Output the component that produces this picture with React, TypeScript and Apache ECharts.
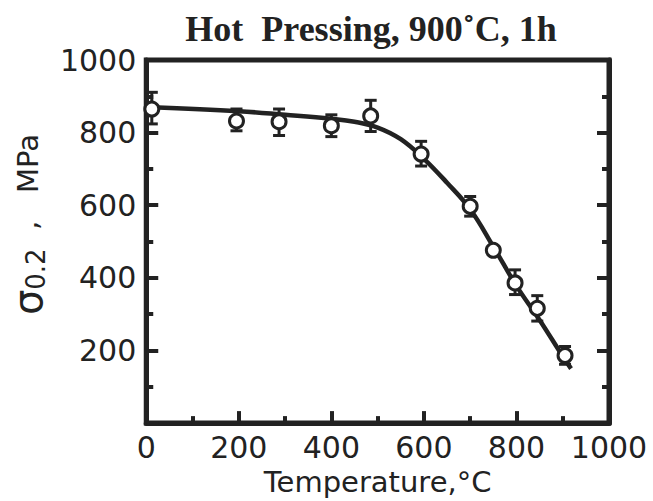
import React, { useEffect, useRef } from "react";
import * as echarts from "echarts";

const temps = [12, 195, 287, 400, 485, 594, 700, 750, 797, 845, 905];
const sigma = [865, 832, 830, 819, 846, 741, 597, 476, 386, 316, 186];
const errLow = [824, 805, 792, 789, 803, 708, 570, 466, 354, 281, 162];
const errHigh = [911, 865, 865, 849, 889, 776, 624, 486, 422, 351, 211];

const fitT = [12, 200, 300, 400, 450, 500, 550, 600, 650, 700, 750, 800, 850, 900, 918];
const fitS = [870, 859, 849, 838, 830, 814, 782, 728, 662, 589, 486, 378, 284, 184, 150];

const xTicks = [0, 200, 400, 600, 800, 1000];
const yTicks = [200, 400, 600, 800, 1000];

const TITLE = "Hot  Pressing, 900˚C, 1h";
const X_NAME = "Temperature,°C";

export default function App() {
  const ref = useRef<HTMLDivElement>(null);
  useEffect(() => {
    if (!ref.current) return;
    const chart = echarts.init(ref.current, undefined, { renderer: "svg" });
    const ink = "#222";
    const labelFont = "DejaVu Sans";
    chart.setOption({
      animation: false,
      backgroundColor: "#fff",
      title: {
        text: TITLE,
        left: 366,
        top: 6,
        textAlign: "center",
        textStyle: {
          fontFamily: "Liberation Serif",
          fontWeight: "bold",
          fontSize: 36,
          color: ink,
        },
      },
      grid: {
        left: 131,
        right: 44,
        top: 60,
        bottom: 71,
        show: true,
        borderColor: ink,
        borderWidth: 5,
        backgroundColor: "transparent",
      },
      xAxis: [
        {
          type: "value",
          min: 0,
          max: 1000,
          interval: 200,
          name: X_NAME,
          nameLocation: "middle",
          nameGap: 42,
          nameTextStyle: { fontFamily: labelFont, fontSize: 29, color: ink },
          axisLine: { show: true, lineStyle: { color: ink, width: 5 } },
          axisTick: { show: true, inside: true, length: 12, lineStyle: { color: ink, width: 4 } },
          minorTick: { show: true, splitNumber: 2, length: 7, lineStyle: { color: ink, width: 4 } },
          splitLine: { show: false },
          axisLabel: {
            fontFamily: labelFont,
            fontSize: 30,
            color: ink,
            margin: 9,
            formatter: (v: number) => (xTicks.includes(v) ? String(v) : ""),
          },
        },
      ],
      yAxis: [
        {
          type: "value",
          min: 0,
          max: 1000,
          interval: 200,
          name: "{s|σ}{sub|0.2}{n|  ,   MPa}",
          nameLocation: "middle",
          nameGap: 88,
          nameRotate: 90,
          nameTextStyle: {
            color: ink,
            padding: [0, 0, 0, 34],
            rich: {
              s: { fontFamily: "DejaVu Sans", fontSize: 40, color: ink },
              sub: { fontFamily: labelFont, fontSize: 26, color: ink, verticalAlign: "bottom", padding: [16, 0, 0, 0] },
              n: { fontFamily: labelFont, fontSize: 29, color: ink },
            },
          },
          axisLine: { show: true, lineStyle: { color: ink, width: 5 } },
          axisTick: { show: true, inside: true, length: 12, lineStyle: { color: ink, width: 4 } },
          minorTick: { show: true, splitNumber: 2, length: 7, lineStyle: { color: ink, width: 4 } },
          splitLine: { show: false },
          axisLabel: {
            fontFamily: labelFont,
            fontSize: 30,
            color: ink,
            margin: 10,
            formatter: (v: number) => (yTicks.includes(v) ? String(v) : ""),
          },
        },
        {
          type: "value",
          position: "right",
          min: 0,
          max: 1000,
          interval: 200,
          axisLine: { show: true, lineStyle: { color: ink, width: 5 } },
          axisTick: { show: true, inside: true, length: 12, lineStyle: { color: ink, width: 4 } },
          minorTick: { show: true, splitNumber: 2, length: 7, lineStyle: { color: ink, width: 4 } },
          splitLine: { show: false },
          axisLabel: { show: false },
        },
      ],
      series: [
        {
          type: "line",
          data: fitT.map((t, i) => [t, fitS[i]]),
          smooth: 0.4,
          symbol: "none",
          lineStyle: { color: ink, width: 4.5 },
          z: 2,
        },
        {
          type: "custom",
          data: temps.map((t, i) => [t, errLow[i], errHigh[i]]),
          renderItem: (params: any, api: any) => {
            const x = api.value(0);
            const lo = api.coord([x, api.value(1)]);
            const hi = api.coord([x, api.value(2)]);
            const w = 6;
            const st = { stroke: ink, lineWidth: 3 };
            return {
              type: "group",
              children: [
                { type: "line", shape: { x1: lo[0], y1: lo[1], x2: hi[0], y2: hi[1] }, style: st },
                { type: "line", shape: { x1: lo[0] - w, y1: lo[1], x2: lo[0] + w, y2: lo[1] }, style: st },
                { type: "line", shape: { x1: hi[0] - w, y1: hi[1], x2: hi[0] + w, y2: hi[1] }, style: st },
              ],
            };
          },
          z: 3,
        },
        {
          type: "scatter",
          data: temps.map((t, i) => [t, sigma[i]]),
          symbol: "circle",
          symbolSize: 14,
          itemStyle: { color: "#fff", borderColor: ink, borderWidth: 3, opacity: 1 },
          z: 4,
        },
      ],
    });
    return () => chart.dispose();
  }, []);
  return (
    <div
      ref={ref}
      style={{ position: "fixed", left: 0, top: 0, width: 653, height: 501 }}
    />
  );
}
